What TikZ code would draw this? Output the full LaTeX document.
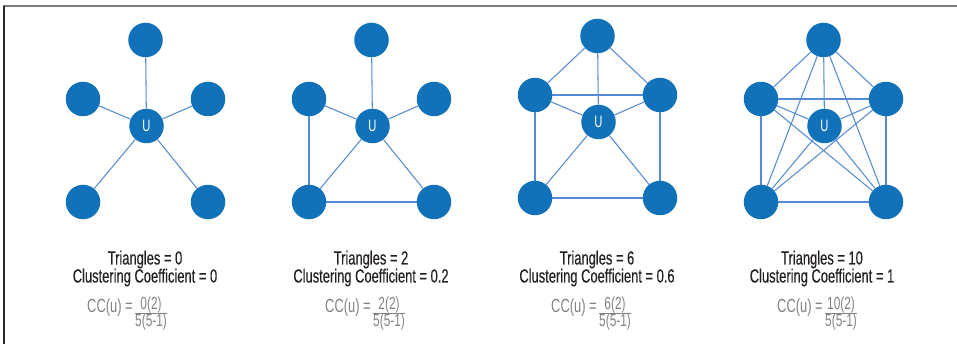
\documentclass[tikz,border=0pt]{standalone}
\usepackage{fontspec}
\setmainfont{Liberation Sans}[FakeStretch=0.68]
\newfontfamily\blkfont{Liberation Sans}[FakeStretch=0.68,FakeBold=0.25]
\usetikzlibrary{backgrounds,calc}
\definecolor{nodeblue}{RGB}{17,113,185}
\definecolor{edgeblue}{RGB}{86,139,211}
\definecolor{txtgray}{RGB}{130,130,130}
\definecolor{txtblack}{RGB}{35,31,32}
\newcommand\mypanel[3]{%
  \node[vtx] (#1t) at (#2,40+#3) {};
  \node[vtx] (#1l) at (#2-62.5,99+#3) {};
  \node[vtx] (#1r) at (#2+62.5,99+#3) {};
  \node[vtx,font=\fontsize{16.5}{16.5}\selectfont,text=white] (#1u) at (#2+1,126+#3) {U};
  \node[vtx] (#1a) at (#2-62.5,202+#3) {};
  \node[vtx] (#1b) at (#2+62.5,202+#3) {};
}
\newcommand\mylabels[6]{%
  \node[blk] (#1tri) at (#2,264.5) {Triangles = #3};
  \node[blk] (#1clu) at (#2,282.5) {Clustering Coefficient = #4};
  \node[gry] (#1cc) at (#5,312.5) {CC(u) =};
  \node[fr,anchor=base west] (#1den) at ($(#1cc.base east)+(2,14)$) {5(5-1)};
  \node[fr,anchor=base] (#1num) at ($(#1den.base)+(0,-17.5)$) {#6(2)};
  \draw[draw=txtgray,line width=0.7pt] ($(#1den.base west)+(0,-13)$) -- ($(#1den.base east)+(0,-13)$);
}
\begin{document}
\begin{tikzpicture}[x=1pt,y=-1pt,
  vtx/.style={circle,fill=nodeblue,minimum size=34.5pt,inner sep=0pt},
  edge/.style={draw=edgeblue,line width=1.05pt},
  blk/.style={anchor=base,text=txtblack,font=\blkfont\fontsize{19}{19}\selectfont,inner sep=0pt},
  gry/.style={anchor=base west,text=txtgray,font=\fontsize{19}{19}\selectfont,inner sep=0pt},
  fr/.style={text=txtgray,font=\fontsize{17.5}{17.5}\selectfont,inner sep=0pt}]
\useasboundingbox (0,0) rectangle (957,344);
\draw[draw={rgb,255:red,125;green,125;blue,125},line width=1.5pt] (3,6) -- (957,6);
\draw[draw={rgb,255:red,40;green,40;blue,40},line width=1.4pt] (4,6) -- (4,344);

\mypanel{p}{145.5}{0}
\mypanel{q}{371.5}{0}
\mypanel{r}{597.5}{-4}
\mypanel{s}{823.5}{0}

\begin{scope}[on background layer]
  \foreach \v in {t,l,r,a,b} {
    \draw[edge] (pu) -- (p\v);
    \draw[edge] (qu) -- (q\v);
    \draw[edge] (ru) -- (r\v);
    \draw[edge] (su) -- (s\v);
  }
  \draw[edge] (ql) -- (qa);
  \draw[edge] (qa) -- (qb);
  \foreach \x/\y in {t/l,t/r,l/r,l/a,r/b,a/b} {
    \draw[edge] (r\x) -- (r\y);
  }
  \foreach \x/\y in {t/l,t/r,t/a,t/b,l/r,l/a,l/b,r/a,r/b,a/b} {
    \draw[edge] (s\x) -- (s\y);
  }
\end{scope}

\mylabels{p}{145}{0}{0}{87}{0}
\mylabels{q}{371}{2}{0.2}{325}{2}
\mylabels{r}{597}{6}{0.6}{551}{6}
\mylabels{s}{822}{10}{1}{777}{10}
\end{tikzpicture}
\end{document}
